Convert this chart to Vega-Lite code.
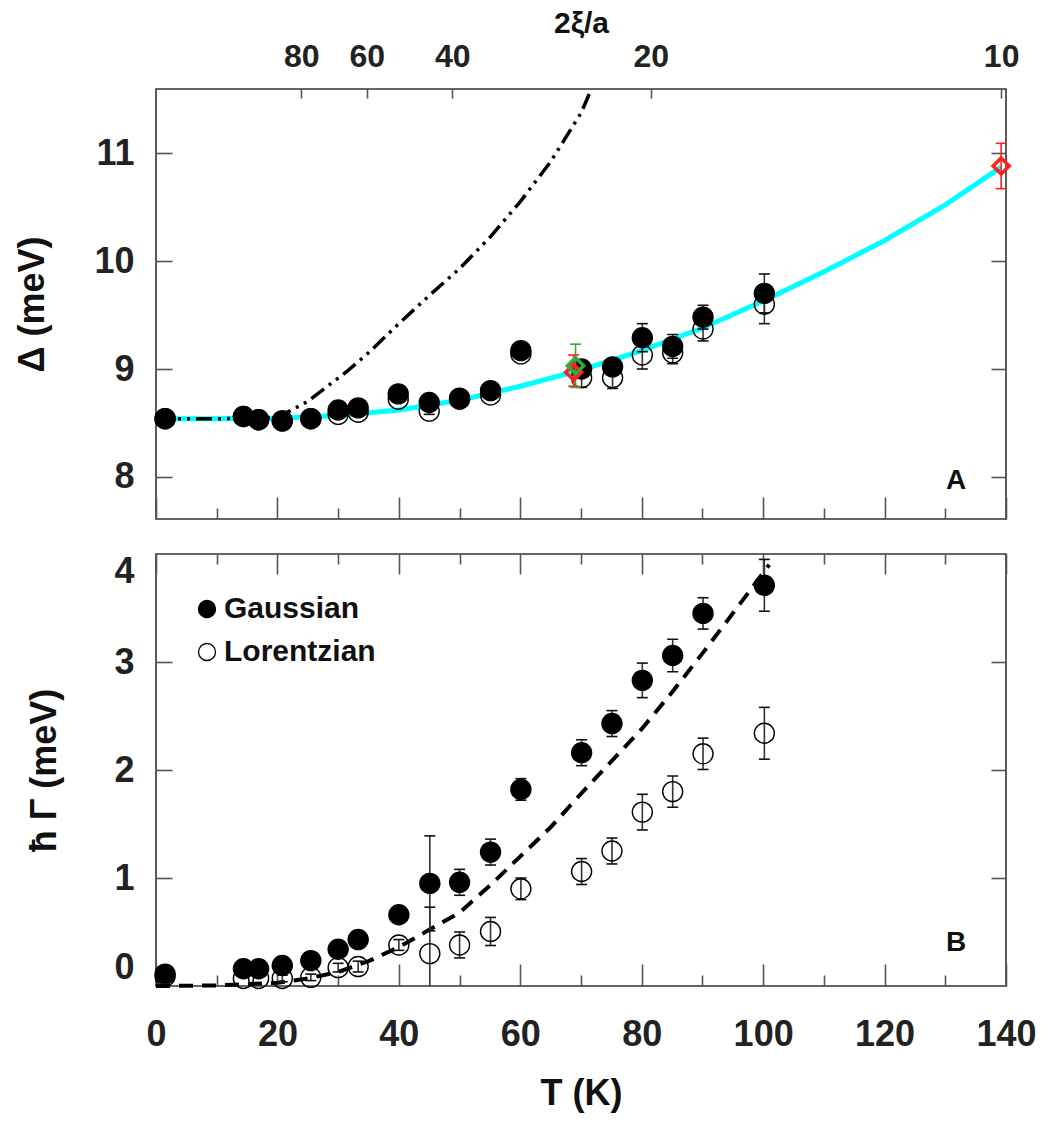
{
  "$schema": "https://vega.github.io/schema/vega-lite/v6.json",
  "background": "white",
  "padding": {"left": 13, "top": 7, "right": 38, "bottom": 20},
  "spacing": 35,
  "bounds": "flush",
  "config": {
    "view": {"stroke": "#333", "strokeWidth": 1.6},
    "axis": {"grid": false, "domain": false, "labelFlush": false, "tickColor": "#555", "tickWidth": 1.6, "labelFont": "Liberation Sans", "labelFontWeight": "bold", "labelFontSize": 36, "labelColor": "#222", "titleFont": "Liberation Sans", "titleFontWeight": "bold", "titleFontSize": 36, "titleColor": "#111"}
  },
  "datasets": {
    "gap": [
      {"T": 1.5, "D": 8.54, "type": "Lorentzian"},
      {"T": 14.4, "D": 8.56, "type": "Lorentzian"},
      {"T": 16.9, "D": 8.53, "type": "Lorentzian"},
      {"T": 20.8, "D": 8.52, "type": "Lorentzian"},
      {"T": 25.5, "D": 8.54, "type": "Lorentzian"},
      {"T": 30.0, "D": 8.58, "type": "Lorentzian"},
      {"T": 33.3, "D": 8.60, "type": "Lorentzian"},
      {"T": 39.9, "D": 8.72, "type": "Lorentzian"},
      {"T": 45.0, "D": 8.61, "lo": 8.58, "hi": 8.64, "type": "Lorentzian"},
      {"T": 50.0, "D": 8.72, "type": "Lorentzian"},
      {"T": 55.1, "D": 8.76, "type": "Lorentzian"},
      {"T": 60.1, "D": 9.14, "type": "Lorentzian"},
      {"T": 70.1, "D": 8.92, "lo": 8.83, "hi": 9.01, "type": "Lorentzian"},
      {"T": 75.2, "D": 8.92, "lo": 8.82, "hi": 9.02, "type": "Lorentzian"},
      {"T": 80.1, "D": 9.13, "lo": 9.00, "hi": 9.26, "type": "Lorentzian"},
      {"T": 85.1, "D": 9.15, "lo": 9.05, "hi": 9.25, "type": "Lorentzian"},
      {"T": 90.1, "D": 9.37, "lo": 9.26, "hi": 9.48, "type": "Lorentzian"},
      {"T": 100.2, "D": 9.60, "lo": 9.42, "hi": 9.78, "type": "Lorentzian"},
      {"T": 1.5, "D": 8.54, "type": "Gaussian"},
      {"T": 14.4, "D": 8.56, "type": "Gaussian"},
      {"T": 16.9, "D": 8.53, "type": "Gaussian"},
      {"T": 20.8, "D": 8.52, "type": "Gaussian"},
      {"T": 25.5, "D": 8.54, "type": "Gaussian"},
      {"T": 30.0, "D": 8.62, "type": "Gaussian"},
      {"T": 33.3, "D": 8.64, "type": "Gaussian"},
      {"T": 39.9, "D": 8.77, "type": "Gaussian"},
      {"T": 45.0, "D": 8.69, "type": "Gaussian"},
      {"T": 50.0, "D": 8.73, "type": "Gaussian"},
      {"T": 55.1, "D": 8.80, "type": "Gaussian"},
      {"T": 60.1, "D": 9.17, "type": "Gaussian"},
      {"T": 70.1, "D": 9.00, "type": "Gaussian"},
      {"T": 75.2, "D": 9.02, "type": "Gaussian"},
      {"T": 80.1, "D": 9.29, "lo": 9.16, "hi": 9.42, "type": "Gaussian"},
      {"T": 85.1, "D": 9.21, "lo": 9.10, "hi": 9.32, "type": "Gaussian"},
      {"T": 90.1, "D": 9.48, "lo": 9.37, "hi": 9.59, "type": "Gaussian"},
      {"T": 100.2, "D": 9.70, "lo": 9.52, "hi": 9.88, "type": "Gaussian"}
    ],
    "width": [
      {"T": 1.5, "G": 0.09, "type": "Lorentzian"},
      {"T": 14.4, "G": 0.07, "type": "Lorentzian"},
      {"T": 16.9, "G": 0.07, "type": "Lorentzian"},
      {"T": 20.8, "G": 0.07, "lo": 0.04, "hi": 0.10, "type": "Lorentzian"},
      {"T": 25.5, "G": 0.08, "lo": 0.05, "hi": 0.11, "type": "Lorentzian"},
      {"T": 30.0, "G": 0.17, "lo": 0.13, "hi": 0.21, "type": "Lorentzian"},
      {"T": 33.3, "G": 0.18, "lo": 0.13, "hi": 0.23, "type": "Lorentzian"},
      {"T": 40.0, "G": 0.38, "lo": 0.33, "hi": 0.43, "type": "Lorentzian"},
      {"T": 45.1, "G": 0.30, "lo": -0.13, "hi": 0.73, "type": "Lorentzian"},
      {"T": 50.0, "G": 0.38, "lo": 0.26, "hi": 0.50, "type": "Lorentzian"},
      {"T": 55.1, "G": 0.505, "lo": 0.375, "hi": 0.635, "type": "Lorentzian"},
      {"T": 60.1, "G": 0.90, "lo": 0.80, "hi": 1.00, "type": "Lorentzian"},
      {"T": 70.1, "G": 1.06, "lo": 0.94, "hi": 1.18, "type": "Lorentzian"},
      {"T": 75.1, "G": 1.25, "lo": 1.13, "hi": 1.37, "type": "Lorentzian"},
      {"T": 80.1, "G": 1.61, "lo": 1.445, "hi": 1.775, "type": "Lorentzian"},
      {"T": 85.1, "G": 1.80, "lo": 1.655, "hi": 1.945, "type": "Lorentzian"},
      {"T": 90.1, "G": 2.15, "lo": 2.005, "hi": 2.295, "type": "Lorentzian"},
      {"T": 100.2, "G": 2.34, "lo": 2.10, "hi": 2.58, "type": "Lorentzian"},
      {"T": 1.5, "G": 0.11, "type": "Gaussian"},
      {"T": 14.4, "G": 0.16, "type": "Gaussian"},
      {"T": 16.9, "G": 0.16, "type": "Gaussian"},
      {"T": 20.8, "G": 0.19, "type": "Gaussian"},
      {"T": 25.5, "G": 0.235, "type": "Gaussian"},
      {"T": 30.0, "G": 0.34, "type": "Gaussian"},
      {"T": 33.3, "G": 0.43, "type": "Gaussian"},
      {"T": 40.0, "G": 0.66, "type": "Gaussian"},
      {"T": 45.1, "G": 0.95, "lo": 0.51, "hi": 1.39, "type": "Gaussian"},
      {"T": 50.0, "G": 0.96, "lo": 0.84, "hi": 1.08, "type": "Gaussian"},
      {"T": 55.1, "G": 1.24, "lo": 1.12, "hi": 1.36, "type": "Gaussian"},
      {"T": 60.1, "G": 1.82, "lo": 1.72, "hi": 1.92, "type": "Gaussian"},
      {"T": 70.1, "G": 2.16, "lo": 2.04, "hi": 2.28, "type": "Gaussian"},
      {"T": 75.1, "G": 2.43, "lo": 2.31, "hi": 2.55, "type": "Gaussian"},
      {"T": 80.1, "G": 2.83, "lo": 2.67, "hi": 2.99, "type": "Gaussian"},
      {"T": 85.1, "G": 3.06, "lo": 2.91, "hi": 3.21, "type": "Gaussian"},
      {"T": 90.1, "G": 3.45, "lo": 3.305, "hi": 3.595, "type": "Gaussian"},
      {"T": 100.2, "G": 3.71, "lo": 3.47, "hi": 3.95, "type": "Gaussian"}
    ],
    "diamonds": [
      {"T": 68.8, "D": 8.97, "lo": 8.84, "hi": 9.13, "src": "red"},
      {"T": 69.1, "D": 9.03, "lo": 8.83, "hi": 9.23, "src": "green"},
      {"T": 139.2, "D": 10.88, "lo": 10.67, "hi": 11.09, "src": "red"}
    ],
    "cyan": [
      {"T": 0, "D": 8.54}, {"T": 10, "D": 8.54}, {"T": 20, "D": 8.545}, {"T": 30, "D": 8.57},
      {"T": 40, "D": 8.62}, {"T": 50, "D": 8.71}, {"T": 60, "D": 8.84}, {"T": 70, "D": 8.99},
      {"T": 80, "D": 9.17}, {"T": 90, "D": 9.38}, {"T": 100, "D": 9.63}, {"T": 110, "D": 9.90},
      {"T": 120, "D": 10.19}, {"T": 130, "D": 10.52}, {"T": 139.2, "D": 10.87}
    ],
    "dotdash": [
      {"T": 0, "D": 8.54}, {"T": 10, "D": 8.54}, {"T": 18, "D": 8.545}, {"T": 20, "D": 8.56},
      {"T": 22, "D": 8.61}, {"T": 25, "D": 8.70}, {"T": 28, "D": 8.83}, {"T": 31.5, "D": 8.98},
      {"T": 35, "D": 9.15}, {"T": 40, "D": 9.42}, {"T": 45, "D": 9.68}, {"T": 50, "D": 9.93},
      {"T": 55, "D": 10.22}, {"T": 60, "D": 10.55}, {"T": 65, "D": 10.92}, {"T": 70, "D": 11.37},
      {"T": 71.7, "D": 11.59}
    ],
    "dashed": [
      {"T": 0, "G": 0.0}, {"T": 10, "G": 0.005}, {"T": 20, "G": 0.03}, {"T": 25, "G": 0.07},
      {"T": 30, "G": 0.13}, {"T": 35, "G": 0.23}, {"T": 40, "G": 0.36}, {"T": 45, "G": 0.52},
      {"T": 50, "G": 0.68}, {"T": 55, "G": 0.93}, {"T": 60, "G": 1.20}, {"T": 65, "G": 1.47},
      {"T": 70, "G": 1.78}, {"T": 75, "G": 2.08}, {"T": 80, "G": 2.38}, {"T": 85, "G": 2.72},
      {"T": 90, "G": 3.08}, {"T": 95, "G": 3.45}, {"T": 101, "G": 3.90}
    ]
  },
  "resolve": {"scale": {"x": "independent", "y": "independent", "fill": "independent", "color": "independent"}},
  "vconcat": [
    {
      "width": 850,
      "height": 430,
      "resolve": {"axis": {"x": "independent", "y": "independent"}},
      "layer": [
        {
          "data": {"name": "cyan"},
          "mark": {"type": "line", "color": "#00ffff", "strokeWidth": 5},
          "encoding": {
            "x": {"field": "T", "type": "quantitative", "scale": {"domain": [0, 140], "nice": false, "zero": false},
                  "axis": {"orient": "bottom", "values": [0, 20, 40, 60, 80, 100, 120, 140], "labels": false, "tickSize": -22, "title": null}},
            "y": {"field": "D", "type": "quantitative", "scale": {"domain": [7.611, 11.593], "nice": false, "zero": false},
                  "axis": {"orient": "left", "values": [8, 9, 10, 11], "ticks": false, "tickSize": 0, "labelPadding": 22, "title": "Δ (meV)", "titleX": -124, "titleY": 215, "titleBaseline": "middle", "titleAngle": -90}}
          }
        },
        {
          "data": {"name": "dotdash"},
          "mark": {"type": "line", "color": "black", "strokeWidth": 3.5, "strokeDash": [16, 6, 3, 6, 3, 6]},
          "encoding": {
            "x": {"field": "T", "type": "quantitative", "scale": {"domain": [0, 140], "nice": false, "zero": false},
                  "axis": {"orient": "bottom", "values": [10, 30, 50, 70, 90, 110, 130], "labels": false, "tickSize": -11, "title": null}},
            "y": {"field": "D", "type": "quantitative", "scale": {"domain": [7.611, 11.593], "nice": false, "zero": false},
                  "axis": {"orient": "left", "values": [8, 9, 10, 11], "labels": false, "tickSize": -16, "title": null}}
          }
        },
        {
          "data": {"name": "gap"},
          "transform": [{"filter": "isValid(datum.lo)"}],
          "mark": {"type": "rule", "color": "#333", "strokeWidth": 1.6},
          "encoding": {
            "x": {"field": "T", "type": "quantitative", "scale": {"domain": [0, 140], "nice": false, "zero": false},
                  "axis": {"orient": "top", "values": [23.94, 34.7, 48.8, 81.5, 139.2], "labels": false, "tickSize": -9, "title": null}},
            "y": {"field": "lo", "type": "quantitative", "scale": {"domain": [7.611, 11.593], "nice": false, "zero": false},
                  "axis": {"orient": "right", "values": [8, 9, 10, 11], "labels": false, "tickSize": -15, "title": null}},
            "y2": {"field": "hi"}
          }
        },
        {
          "data": {"name": "gap"},
          "transform": [{"filter": "isValid(datum.lo)"}],
          "mark": {"type": "tick", "orient": "horizontal", "size": 11, "thickness": 1.6, "color": "#111", "opacity": 1},
          "encoding": {
            "x": {"field": "T", "type": "quantitative", "scale": {"domain": [0, 140], "nice": false, "zero": false},
                  "axis": {"orient": "top", "values": [23.94, 34.7, 48.8, 81.5, 139.2], "ticks": false, "tickSize": 0, "labelPadding": 16, "labelFontSize": 32,
                           "labelExpr": "datum.value < 30 ? '80' : datum.value < 40 ? '60' : datum.value < 60 ? '40' : datum.value < 100 ? '20' : '10'",
                           "title": "2ξ/a", "titleFontSize": 30, "titleY": -66, "titleBaseline": "middle"}},
            "y": {"field": "lo", "type": "quantitative", "scale": {"domain": [7.611, 11.593], "nice": false, "zero": false}, "axis": null}
          }
        },
        {
          "data": {"name": "gap"},
          "transform": [{"filter": "isValid(datum.hi)"}],
          "mark": {"type": "tick", "orient": "horizontal", "size": 11, "thickness": 1.6, "color": "#111", "opacity": 1},
          "encoding": {
            "x": {"field": "T", "type": "quantitative", "scale": {"domain": [0, 140], "nice": false, "zero": false}, "axis": null},
            "y": {"field": "hi", "type": "quantitative", "scale": {"domain": [7.611, 11.593], "nice": false, "zero": false}, "axis": null}
          }
        },
        {
          "data": {"name": "gap"},
          "mark": {"type": "point", "shape": "circle", "filled": true, "size": 400, "stroke": "black", "strokeWidth": 1.4, "opacity": 1},
          "encoding": {
            "x": {"field": "T", "type": "quantitative", "scale": {"domain": [0, 140], "nice": false, "zero": false}, "axis": null},
            "y": {"field": "D", "type": "quantitative", "scale": {"domain": [7.611, 11.593], "nice": false, "zero": false}, "axis": null},
            "fill": {"field": "type", "type": "nominal", "scale": {"domain": ["Gaussian", "Lorentzian"], "range": ["black", "transparent"]}, "legend": null}
          }
        },
        {
          "data": {"name": "diamonds"},
          "mark": {"type": "rule", "strokeWidth": 1.6},
          "encoding": {
            "x": {"field": "T", "type": "quantitative", "scale": {"domain": [0, 140], "nice": false, "zero": false}, "axis": null},
            "y": {"field": "lo", "type": "quantitative", "scale": {"domain": [7.611, 11.593], "nice": false, "zero": false}, "axis": null},
            "y2": {"field": "hi"},
            "color": {"field": "src", "type": "nominal", "scale": {"domain": ["red", "green"], "range": ["#ff2020", "#3aa63a"]}, "legend": null}
          }
        },
        {
          "data": {"name": "diamonds"},
          "mark": {"type": "tick", "orient": "horizontal", "size": 11, "thickness": 1.6, "opacity": 1},
          "encoding": {
            "x": {"field": "T", "type": "quantitative", "scale": {"domain": [0, 140], "nice": false, "zero": false}, "axis": null},
            "y": {"field": "lo", "type": "quantitative", "scale": {"domain": [7.611, 11.593], "nice": false, "zero": false}, "axis": null},
            "color": {"field": "src", "type": "nominal", "scale": {"domain": ["red", "green"], "range": ["#ff2020", "#3aa63a"]}, "legend": null}
          }
        },
        {
          "data": {"name": "diamonds"},
          "mark": {"type": "tick", "orient": "horizontal", "size": 11, "thickness": 1.6, "opacity": 1},
          "encoding": {
            "x": {"field": "T", "type": "quantitative", "scale": {"domain": [0, 140], "nice": false, "zero": false}, "axis": null},
            "y": {"field": "hi", "type": "quantitative", "scale": {"domain": [7.611, 11.593], "nice": false, "zero": false}, "axis": null},
            "color": {"field": "src", "type": "nominal", "scale": {"domain": ["red", "green"], "range": ["#ff2020", "#3aa63a"]}, "legend": null}
          }
        },
        {
          "data": {"name": "diamonds"},
          "mark": {"type": "point", "shape": "diamond", "filled": false, "size": 260, "strokeWidth": 3.5, "opacity": 1},
          "encoding": {
            "x": {"field": "T", "type": "quantitative", "scale": {"domain": [0, 140], "nice": false, "zero": false}, "axis": null},
            "y": {"field": "D", "type": "quantitative", "scale": {"domain": [7.611, 11.593], "nice": false, "zero": false}, "axis": null},
            "color": {"field": "src", "type": "nominal", "scale": {"domain": ["red", "green"], "range": ["#ff2020", "#3aa63a"]}, "legend": null}
          }
        },
        {
          "data": {"values": [{"panel": "A"}]},
          "mark": {"type": "text", "font": "Liberation Sans", "fontWeight": "bold", "fontSize": 28, "align": "center", "baseline": "middle", "color": "#111"},
          "encoding": {
            "x": {"datum": 131.8, "type": "quantitative", "scale": {"domain": [0, 140], "nice": false, "zero": false}, "axis": null},
            "y": {"datum": 7.96, "type": "quantitative", "scale": {"domain": [7.611, 11.593], "nice": false, "zero": false}, "axis": null},
            "text": {"field": "panel"}
          }
        }
      ]
    },
    {
      "width": 850,
      "height": 432,
      "resolve": {"axis": {"x": "independent", "y": "independent"}},
      "layer": [
        {
          "data": {"name": "dashed"},
          "mark": {"type": "line", "color": "black", "strokeWidth": 4, "strokeDash": [14, 9]},
          "encoding": {
            "x": {"field": "T", "type": "quantitative", "scale": {"domain": [0, 140], "nice": false, "zero": false},
                  "axis": {"orient": "bottom", "values": [0, 20, 40, 60, 80, 100, 120, 140], "ticks": false, "tickSize": 0, "labelPadding": 31, "labelFlush": false, "title": "T (K)", "titleY": 107, "titleBaseline": "middle"}},
            "y": {"field": "G", "type": "quantitative", "scale": {"domain": [0, 4], "nice": false, "zero": false},
                  "axis": {"orient": "left", "values": [0, 1, 2, 3, 4], "ticks": false, "tickSize": 0, "labelPadding": 22, "labelFlush": true, "title": "ħ Γ (meV)", "titleX": -112, "titleY": 216, "titleBaseline": "middle", "titleAngle": -90}}
          }
        },
        {
          "data": {"name": "width"},
          "transform": [{"filter": "isValid(datum.lo)"}],
          "mark": {"type": "rule", "color": "#333", "strokeWidth": 1.6, "clip": true},
          "encoding": {
            "x": {"field": "T", "type": "quantitative", "scale": {"domain": [0, 140], "nice": false, "zero": false},
                  "axis": {"orient": "bottom", "values": [0, 20, 40, 60, 80, 100, 120, 140], "labels": false, "tickSize": -22, "title": null}},
            "y": {"field": "lo", "type": "quantitative", "scale": {"domain": [0, 4], "nice": false, "zero": false},
                  "axis": {"orient": "left", "values": [1, 2, 3], "labels": false, "tickSize": -16, "title": null}},
            "y2": {"field": "hi"}
          }
        },
        {
          "data": {"name": "width"},
          "transform": [{"filter": "isValid(datum.lo)"}],
          "mark": {"type": "tick", "orient": "horizontal", "size": 11, "thickness": 1.6, "color": "#111", "opacity": 1, "clip": true},
          "encoding": {
            "x": {"field": "T", "type": "quantitative", "scale": {"domain": [0, 140], "nice": false, "zero": false},
                  "axis": {"orient": "bottom", "values": [10, 30, 50, 70, 90, 110, 130], "labels": false, "tickSize": -11, "title": null}},
            "y": {"field": "lo", "type": "quantitative", "scale": {"domain": [0, 4], "nice": false, "zero": false},
                  "axis": {"orient": "right", "values": [1, 2, 3], "labels": false, "tickSize": -15, "title": null}}
          }
        },
        {
          "data": {"name": "width"},
          "transform": [{"filter": "isValid(datum.hi)"}],
          "mark": {"type": "tick", "orient": "horizontal", "size": 11, "thickness": 1.6, "color": "#111", "opacity": 1},
          "encoding": {
            "x": {"field": "T", "type": "quantitative", "scale": {"domain": [0, 140], "nice": false, "zero": false},
                  "axis": {"orient": "top", "values": [0, 20, 40, 60, 80, 100, 120, 140], "labels": false, "tickSize": -20, "title": null}},
            "y": {"field": "hi", "type": "quantitative", "scale": {"domain": [0, 4], "nice": false, "zero": false}, "axis": null}
          }
        },
        {
          "data": {"name": "width"},
          "mark": {"type": "point", "shape": "circle", "filled": true, "size": 400, "stroke": "black", "strokeWidth": 1.4, "opacity": 1},
          "encoding": {
            "x": {"field": "T", "type": "quantitative", "scale": {"domain": [0, 140], "nice": false, "zero": false},
                  "axis": {"orient": "top", "values": [10, 30, 50, 70, 90, 110, 130], "labels": false, "tickSize": -10, "title": null}},
            "y": {"field": "G", "type": "quantitative", "scale": {"domain": [0, 4], "nice": false, "zero": false}, "axis": null},
            "fill": {"field": "type", "type": "nominal", "scale": {"domain": ["Gaussian", "Lorentzian"], "range": ["black", "transparent"]},
                     "legend": {"title": null, "orient": "none", "legendX": 36, "legendY": 40, "padding": 0, "labelFont": "Liberation Sans", "labelFontWeight": "bold", "labelFontSize": 30, "labelColor": "#111", "symbolType": "circle", "symbolSize": 289, "symbolStrokeColor": "black", "symbolStrokeWidth": 1.3, "rowPadding": 13, "labelOffset": 2}}
          }
        },
        {
          "data": {"values": [{"panel": "B"}]},
          "mark": {"type": "text", "font": "Liberation Sans", "fontWeight": "bold", "fontSize": 28, "align": "center", "baseline": "middle", "color": "#111"},
          "encoding": {
            "x": {"datum": 131.8, "type": "quantitative", "scale": {"domain": [0, 140], "nice": false, "zero": false}, "axis": null},
            "y": {"datum": 0.40, "type": "quantitative", "scale": {"domain": [0, 4], "nice": false, "zero": false}, "axis": null},
            "text": {"field": "panel"}
          }
        }
      ]
    }
  ]
}
